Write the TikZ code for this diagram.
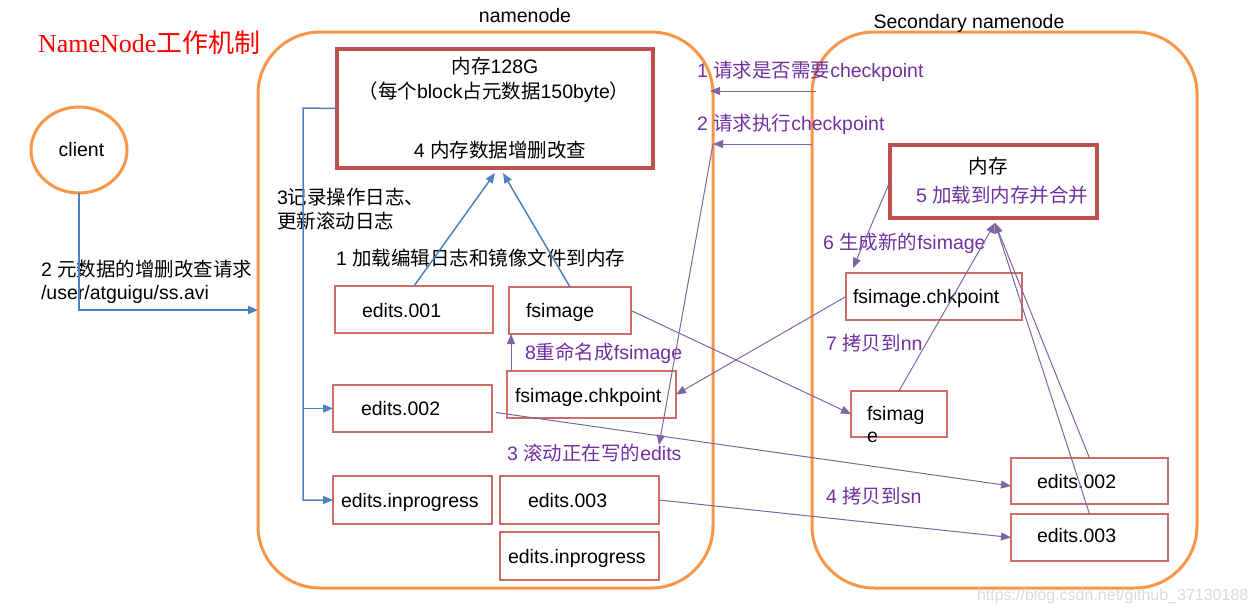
\documentclass[tikz,border=0pt]{standalone}
\usepackage{fontspec}
\setmainfont{Liberation Sans}
\newfontfamily\zh{Noto Sans CJK SC}
\newfontfamily\serifl{Liberation Serif}
\usetikzlibrary{arrows.meta,shapes.geometric,calc}
\definecolor{orC}{HTML}{F79646}
\definecolor{rdC}{HTML}{C0504D}
\definecolor{rdL}{HTML}{CF6B68}
\definecolor{blC}{HTML}{4F81BD}
\definecolor{puL}{HTML}{8064A2}
\definecolor{puT}{HTML}{7030A0}
\definecolor{ttR}{HTML}{FF0000}
\newcommand{\twoln}[3]{\vtop{\baselineskip=#3pt\hbox{#1}\hbox{#2}}}
\begin{document}
\begin{tikzpicture}[x=1pt,y=-1pt,
  every node/.style={inner sep=0pt, outer sep=0pt, font=\fontsize{19.5}{24}\selectfont},
  container/.style={draw=orC, line width=3pt, rounded corners=62pt, rectangle, anchor=north west},
  smallbox/.style={draw=rdL, line width=1.1pt, anchor=north west, rectangle},
  membox/.style={draw=rdC, line width=3.5pt, anchor=north west, rectangle},
  lbl/.style={anchor=base west},
  clbl/.style={anchor=base},
  plbl/.style={anchor=base west, text=puT},
  parr/.style={draw=puL, line width=1pt, -{Triangle[length=10pt,width=8pt]}},
  barr/.style={draw=blC, line width=1.5pt, -{Triangle[length=10pt,width=8pt]}},
]
\useasboundingbox (0,0) rectangle (1254,613);

% containers
\node[container, minimum width=455pt, minimum height=556pt] (nnbox) at (258,32) {};
\node[container, minimum width=385pt, minimum height=556pt] (snbox) at (812,32) {};
\node[draw=orC, line width=3pt, ellipse, minimum width=96pt, minimum height=86pt] (client) at (79,150) {\hspace*{5pt}client};

% namenode boxes
\node[membox, minimum width=316pt, minimum height=119pt] (nnmem) at (337,49) {};
\node[smallbox, minimum width=158pt, minimum height=47pt] (e1) at (335,286) {};
\node[smallbox, minimum width=122pt, minimum height=47pt] (nfs) at (509,287) {};
\node[smallbox, minimum width=169pt, minimum height=47pt] (nck) at (507,371) {};
\node[smallbox, minimum width=159pt, minimum height=47pt] (e2) at (333,385) {};
\node[smallbox, minimum width=159pt, minimum height=48pt] (eipL) at (333,476) {};
\node[smallbox, minimum width=159pt, minimum height=48pt] (e3) at (500,476) {};
\node[smallbox, minimum width=159pt, minimum height=48pt] (eipR) at (500,532) {};

% secondary boxes
\node[membox, minimum width=207pt, minimum height=73pt] (smem) at (890,145) {};
\node[smallbox, minimum width=176pt, minimum height=47pt] (sck) at (846,273) {};
\node[smallbox, minimum width=96pt, minimum height=46pt] (sfs) at (851,391) {};
\node[smallbox, minimum width=157pt, minimum height=46pt] (se2) at (1011,458) {};
\node[smallbox, minimum width=157pt, minimum height=47pt] (se3) at (1011,514) {};

% texts
\node[anchor=base west, text=ttR, font=\fontsize{26}{30}\selectfont] (title) at (38,52) {{\serifl NameNode}{\zh 工作机制}};
\node[clbl] (nnlbl) at (525,22) {namenode};
\node[clbl] (snlbl) at (969,28) {Secondary namenode};
\node[clbl] (m1) at (495,73) {{\zh 内存}128G};
\node[clbl] (m2) at (494,98) {{\zh （每个}block{\zh 占元数据}150byte{\zh ）}};
\node[clbl] (m3) at (500,157) {4 {\zh 内存数据增删改查}};
\node[lbl] (l3) at (277,204) {\twoln{3{\zh 记录操作日志、}}{{\zh 更新滚动日志}}{24}};
\node[lbl] (l1) at (336,265) {1 {\zh 加载编辑日志和镜像文件到内存}};
\node[lbl] (l2) at (41,276) {\twoln{2 {\zh 元数据的增删改查请求}}{/user/atguigu/ss.avi}{23}};

\node[lbl] (te1) at (362,317) {edits.001};
\node[lbl] (tnfs) at (526,317) {fsimage};
\node[lbl] (tnck) at (515,402) {fsimage.chkpoint};
\node[lbl] (te2) at (361,415) {edits.002};
\node[lbl] (teipL) at (341,507) {edits.inprogress};
\node[lbl] (te3) at (528,507) {edits.003};
\node[lbl] (teipR) at (508,563) {edits.inprogress};

\node[clbl] (tsmem) at (988,173) {{\zh 内存}};
\node[lbl] (tsck) at (853,303) {fsimage.chkpoint};
\node[lbl] (tsfs) at (867,420) {\twoln{fsimag}{e}{22}};
\node[lbl] (tse2) at (1037,488) {edits.002};
\node[lbl] (tse3) at (1037,542) {edits.003};

\node[plbl] (p1) at (697,77) {1 {\zh 请求是否需要}checkpoint};
\node[plbl] (p2) at (697,130) {2 {\zh 请求执行}checkpoint};
\node[plbl] (p8) at (525,359) {8{\zh 重命名成}fsimage};
\node[plbl] (p3) at (507,460) {3 {\zh 滚动正在写的}edits};
\node[plbl] (p6) at (823,249) {6 {\zh 生成新的}fsimage};
\node[plbl] (p7) at (826,350) {7 {\zh 拷贝到}nn};
\node[plbl] (p4) at (826,503) {4 {\zh 拷贝到}sn};
\node[plbl] (p5) at (916,202) {5 {\zh 加载到内存并合并}};

\node[anchor=base west, text=black!15, font=\fontsize{16}{18}\selectfont] (wm) at (977,600) {https://blog.csdn.net/github\_37130188};

% blue connectors
\draw[barr] (client.south) |- (nnbox.west);
\coordinate (bv) at (303,108);
\draw[barr] (nnmem.west) -- (bv) |- (eipL.west);
\draw[barr] (bv |- e2.west) -- (e2.west);
\draw[barr] (e1.north) -- ([yshift=-5pt]nnmem.south);
\draw[barr] (nfs.north) -- ([xshift=8pt,yshift=-5pt]nnmem.south);

% purple connectors
\coordinate (r1s) at (816,91);
\coordinate (r1e) at (710,91);
\coordinate (r2s) at (812,144);
\coordinate (r2e) at (713,144);
\coordinate (r3e) at (659,445);
\draw[parr] (r1s) -- (r1e);
\draw[parr] (r2s) -- (r2e);
\draw[parr] (r2e) -- (r3e);
\draw[parr] ([xshift=4pt]nck.north west) -- ([xshift=2pt]nfs.south west);
\draw[parr] (sck.west) -- (nck.east);
\draw[parr] (nfs.east) -- (sfs.west);
\draw[parr] ([xshift=4pt,yshift=-4pt]e2.east) -- ([yshift=-5pt]se2.west);
\draw[parr] (e3.east) -- (se3.west);
\draw[parr] (smem.west) -- ([xshift=7pt,yshift=5pt]sck.north west);
\coordinate (smt) at (995,223);
\draw[parr] (sfs.north) -- (smt);
\draw[parr] (se2.north) -- (smt);
\draw[parr] (se3.north) -- (smt);
\end{tikzpicture}
\end{document}
